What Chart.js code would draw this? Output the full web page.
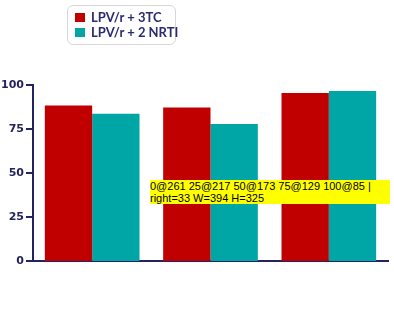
<!DOCTYPE html>
<html>
<head>
<meta charset="utf-8">
<script src="https://cdn.jsdelivr.net/npm/chart.js@4"></script>
<style>
  html, body { margin: 0; padding: 0; background: #fff; }
  #wrap { position: relative; width: 394px; height: 325px; }
  #legend {
    position: absolute; left: 67px; top: 5px; width: 107px; height: 38px;
    border: 1px solid #d6d6dc; border-radius: 6px; background: #fff;
    font: bold 13px Lato, sans-serif; color: #2b2b6e;
  }
  #legend div { position: absolute; left: 7px; white-space: nowrap; line-height: 14px; }
  #legend span { display: inline-block; width: 10px; height: 9px; margin-right: 6px; vertical-align: 0px; }
</style>
</head>
<body>
<div id="wrap">
  <canvas id="myChart" width="394" height="325"></canvas>
  <div id="legend">
    <div style="top:4px"><span style="background:#c00000"></span>LPV/r + 3TC</div>
    <div style="top:19px"><span style="background:#00a6a6"></span>LPV/r + 2 NRTI</div>
  </div>
</div>
<div id="dbg" style="position:absolute;left:150px;top:180px;font:11px sans-serif;background:#ff0;width:240px"></div>
<script>
const categories = ["Primary", "Baseline", "All"];
const series3TC = [88.3, 87.2, 95.5];
const seriesNRTI = [83.7, 77.9, 96.6];
const yTicks = [0, 25, 50, 75, 100];

const navy = "#23235e";

const tickPlugin = {
  id: "yTickMarks",
  afterDatasetsDraw(chart) {
    const ctx = chart.ctx;
    const y = chart.scales.y;
    ctx.save();
    ctx.strokeStyle = navy;
    ctx.lineWidth = 2;
    ctx.fillStyle = navy;
    ctx.font = "bold 11px 'DejaVu Sans', sans-serif";
    ctx.textAlign = "right";
    ctx.textBaseline = "middle";
    const out = [];
    yTicks.forEach(v => {
      const py = Math.round(y.getPixelForValue(v));
      out.push(v + "@" + py);
      ctx.beginPath();
      ctx.moveTo(y.right - 7, py);
      ctx.lineTo(y.right, py);
      ctx.stroke();
      ctx.fillText(String(v), y.right - 9, py);
    });
    ctx.restore();
    document.getElementById("dbg").textContent = out.join(" ") + " | right=" + y.right + " W=" + chart.width + " H=" + chart.height;
  }
};

const ctx = document.getElementById("myChart").getContext("2d");
const myChart = new Chart(ctx, {
  type: "bar",
  data: {
    labels: categories,
    datasets: [
      { label: "LPV/r + 3TC", data: series3TC, backgroundColor: "#c00000" },
      { label: "LPV/r + 2 NRTI", data: seriesNRTI, backgroundColor: "#00a6a6" }
    ]
  },
  options: {
    responsive: false,
    animation: false,
    layout: { padding: { top: 85, right: 6, left: 0, bottom: 0 } },
    plugins: { legend: { display: false }, tooltip: { enabled: false } },
    datasets: { bar: { categoryPercentage: 0.8, barPercentage: 1.0 } },
    scales: {
      x: {
        grid: { display: false },
        border: { color: navy, width: 2 },
        ticks: { display: false },
        afterFit: s => { s.height = 64; }
      },
      y: {
        min: yTicks[0],
        max: yTicks[yTicks.length - 1],
        grid: { display: false },
        border: { color: navy, width: 2 },
        ticks: { display: false },
        afterFit: s => { s.width = 33; }
      }
    }
  },
  plugins: [tickPlugin]
});
</script>
</body>
</html>
